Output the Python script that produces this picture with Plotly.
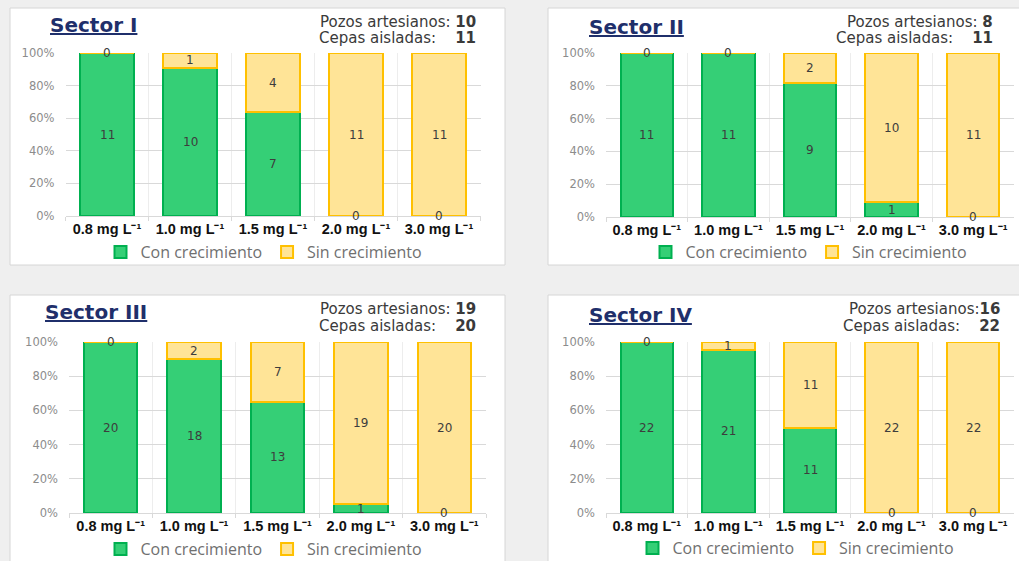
import plotly.graph_objects as go

W, H = 1019, 561

concentraciones = ["0.8 mg L⁻¹", "1.0 mg L⁻¹", "1.5 mg L⁻¹", "2.0 mg L⁻¹", "3.0 mg L⁻¹"]

sectores = ["Sector I", "Sector II", "Sector III", "Sector IV"]
pozos = [10, 8, 19, 16]
cepas = [11, 11, 20, 22]

con_s1 = [11, 10, 7, 0, 0]
sin_s1 = [0, 1, 4, 11, 11]
con_s2 = [11, 11, 9, 1, 0]
sin_s2 = [0, 0, 2, 10, 11]
con_s3 = [20, 18, 13, 1, 0]
sin_s3 = [0, 2, 7, 19, 20]
con_s4 = [22, 21, 11, 0, 0]
sin_s4 = [0, 1, 11, 22, 22]

con_all = [con_s1, con_s2, con_s3, con_s4]
sin_all = [sin_s1, sin_s2, sin_s3, sin_s4]

GREEN_FILL = "#35cf76"
GREEN_LINE = "#00b050"
YELLOW_FILL = "#ffe497"
YELLOW_LINE = "#ffc000"

# layout geometry in pixels
plot_px = [
    dict(x0=65.5, x1=480.5, y0=53, y1=216),
    dict(x0=606, x1=1014, y0=53, y1=217),
    dict(x0=69, x1=486, y0=342, y1=513),
    dict(x0=606, x1=1014, y0=342, y1=513),
]
panel_px = [
    (10, 8, 505, 265),
    (548, 8, 1025, 265),
    (10, 295, 505, 570),
    (548, 295, 1025, 570),
]
title_px = [(48, 25), (587, 27), (43, 312), (587, 315)]
info_px = [(478, 21.5, 37.5), (995, 21.5, 37.5), (478, 309.5, 325.5), (1002, 309.5, 325.5)]
legend_px = [(264, 252), (809, 252), (264, 549), (796, 548)]
pozos_sep = [" ", " ", " ", ""]

def fx(p):
    return p / W

def fy(p):
    return 1 - p / H

fig = go.Figure()
layout = {}
annotations = []
shapes = []

for i in range(4):
    n = "" if i == 0 else str(i + 1)
    xa, ya = "x" + n, "y" + n
    leg = "legend" + n
    con, sin = con_all[i], sin_all[i]
    fig.add_trace(go.Bar(
        x=concentraciones, y=con, name="Con crecimiento",
        marker=dict(color=GREEN_FILL, line=dict(color=GREEN_LINE, width=2)),
        xaxis=xa, yaxis=ya, legend=leg, hoverinfo="skip"))
    fig.add_trace(go.Bar(
        x=concentraciones, y=sin, name="Sin crecimiento",
        marker=dict(color=YELLOW_FILL, line=dict(color=YELLOW_LINE, width=2)),
        xaxis=xa, yaxis=ya, legend=leg, hoverinfo="skip"))
    tot = [c + s for c, s in zip(con, sin)]
    con_pct = [100 * c / t for c, t in zip(con, tot)]
    sin_pct = [100 * s / t for s, t in zip(sin, tot)]
    ymid_con = [p / 2 for p in con_pct]
    ymid_sin = [c + s / 2 for c, s in zip(con_pct, sin_pct)]
    for cat, yv, v in zip(concentraciones + concentraciones, ymid_con + ymid_sin, con + sin):
        annotations.append(dict(
            x=cat, y=yv, xref=xa, yref=ya, text=str(v), showarrow=False,
            xanchor="center", yanchor="middle",
            font=dict(family="DejaVu Sans", size=12, color="#3d3d3d")))

    g = plot_px[i]
    axn = "" if i == 0 else str(i + 1)
    layout["xaxis" + axn] = dict(
        domain=[fx(g["x0"]), fx(g["x1"])], anchor=ya,
        tickfont=dict(family="Liberation Sans", size=14.5, color="#111111", weight="bold"),
        showgrid=True, gridcolor="#ededed", gridwidth=1, tickson="boundaries",
        ticks="outside", ticklen=4, tickcolor="#d9d9d9",
        showline=True, linecolor="#d9d9d9", linewidth=1, zeroline=False,
        fixedrange=True)
    layout["yaxis" + axn] = dict(
        domain=[fy(g["y1"]), fy(g["y0"])], anchor=xa, range=[0, 100],
        tickvals=[0, 20, 40, 60, 80, 100], ticktext=["0%", "20%", "40%", "60%", "80%", "100%"],
        tickfont=dict(family="DejaVu Sans", size=11.5, color="#8c8c8c"),
        showgrid=True, gridcolor="#d9d9d9", gridwidth=1, zeroline=False,
        showline=False, ticks="", ticklabelstandoff=10, fixedrange=True)
    lx, ly = legend_px[i]
    layout[leg] = dict(
        x=fx(lx), y=fy(ly), xanchor="center", yanchor="middle", orientation="h",
        font=dict(family="Open Sans", size=16, color="#707070"),
        bgcolor="rgba(0,0,0,0)", itemwidth=30, tracegroupgap=0, traceorder="normal",
        itemclick=False, itemdoubleclick=False)

    px0, py0, px1, py1 = panel_px[i]
    shapes.append(dict(type="rect", xref="paper", yref="paper", layer="below",
                       x0=fx(px0), x1=fx(px1), y0=fy(py1), y1=fy(py0),
                       fillcolor="white", line=dict(color="#d6d6d6", width=1)))
    tx, ty = title_px[i]
    annotations.append(dict(
        x=fx(tx), y=fy(ty), xref="paper", yref="paper", xanchor="left", yanchor="middle",
        text="<u><b>" + sectores[i] + "</b></u>", showarrow=False,
        font=dict(family="DejaVu Sans", size=20, color="#1f2f6b")))
    ix, iy1, iy2 = info_px[i]
    annotations.append(dict(
        x=fx(ix), y=fy(iy1), xref="paper", yref="paper", xanchor="right", yanchor="middle",
        text="Pozos artesianos:" + pozos_sep[i] + "<b>%d</b>" % pozos[i], showarrow=False,
        font=dict(family="DejaVu Sans", size=15, color="#3a3a3a")))
    annotations.append(dict(
        x=fx(ix), y=fy(iy2), xref="paper", yref="paper", xanchor="right", yanchor="middle",
        text="Cepas aisladas:&nbsp;&nbsp;&nbsp;&nbsp;<b>%d</b>" % cepas[i], showarrow=False,
        font=dict(family="DejaVu Sans", size=15, color="#3a3a3a")))

fig.update_layout(
    width=W, height=H, margin=dict(l=0, r=0, t=0, b=0, autoexpand=False),
    paper_bgcolor="#efefef", plot_bgcolor="rgba(0,0,0,0)",
    barmode="stack", barnorm="percent", bargap=0.36,
    shapes=shapes, annotations=annotations, **layout)

post = ("document.body.style.margin='0';"
        "document.documentElement.style.overflow='hidden';"
        "document.body.style.overflow='hidden';")

fig.write_html("out.html", config={"displayModeBar": False}, post_script=post)
